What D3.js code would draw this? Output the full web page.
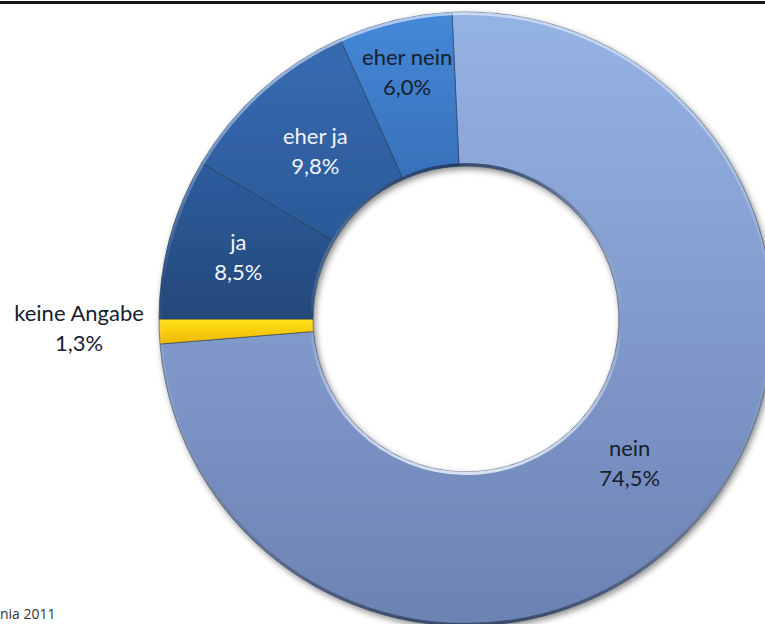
<!DOCTYPE html>
<html>
<head>
<meta charset="utf-8">
<script src="https://cdn.jsdelivr.net/npm/d3@7"></script>
<style>
  html, body { margin: 0; padding: 0; background: #fff; }
  svg { display: block; }
</style>
</head>
<body>
<svg id="chart" width="765" height="624"></svg>
<script>
// Survey answers, in drawing order (clockwise)
const categories = ["nein", "keine Angabe", "ja", "eher ja", "eher nein"];
const values = [74.5, 1.3, 8.5, 9.8, 6.0];
const sourceNote = "nia 2011";

const W = 765, H = 624;
const cx = 466, cy = 319, rOuter = 307, rInner = 153;

const svg = d3.select("#chart");
const defs = svg.append("defs");

// German number format: 74,5%
const de = d3.formatLocale({ decimal: ",", thousands: ".", grouping: [3], currency: ["", " €"] });
const pct = v => de.format(".1f")(v) + "%";

// Slice colours: [top, bottom] of a vertical gradient
const palette = {
  "nein":         ["#96b3e5", "#6c82b3"],
  "keine Angabe": ["#ffe41c", "#efb600"],
  "ja":           ["#2d5d9f", "#244879"],
  "eher ja":      ["#376bb3", "#2a5996"],
  "eher nein":    ["#4589d9", "#3870b9"]
};
const labelFill = {
  "nein": "#16202e", "keine Angabe": "#16202e", "eher nein": "#16202e",
  "ja": "#f2f5fb", "eher ja": "#f2f5fb"
};
// radial nudge of in-ring labels relative to the ring centroid
const labelShift = { "nein": -12, "eher nein": 24, "ja": 6, "eher ja": -4 };

categories.forEach((c, i) => {
  const g = defs.append("linearGradient")
    .attr("id", "grad" + i)
    .attr("x1", 0).attr("y1", 0).attr("x2", 0).attr("y2", 1);
  g.append("stop").attr("offset", "0%").attr("stop-color", palette[c][0]);
  g.append("stop").attr("offset", "100%").attr("stop-color", palette[c][1]);
});

// soft drop shadow under the ring
const f = defs.append("filter").attr("id", "shadow")
  .attr("x", "-10%").attr("y", "-10%").attr("width", "120%").attr("height", "120%");
f.append("feDropShadow").attr("dx", 2).attr("dy", 3).attr("stdDeviation", 3)
  .attr("flood-color", "#000").attr("flood-opacity", 0.45);

// rim highlights: outer light on top, inner light at bottom
const rimOuter = defs.append("linearGradient").attr("id", "rimOuter")
  .attr("x1", 0).attr("y1", 0).attr("x2", 0).attr("y2", 1);
rimOuter.append("stop").attr("offset", "0%").attr("stop-color", "#dfe9fb").attr("stop-opacity", 0.7);
rimOuter.append("stop").attr("offset", "45%").attr("stop-color", "#ffffff").attr("stop-opacity", 0);
rimOuter.append("stop").attr("offset", "100%").attr("stop-color", "#1b2740").attr("stop-opacity", 0.6);
const rimInner = defs.append("linearGradient").attr("id", "rimInner")
  .attr("x1", 0).attr("y1", 0).attr("x2", 0).attr("y2", 1);
rimInner.append("stop").attr("offset", "0%").attr("stop-color", "#1b2740").attr("stop-opacity", 0.7);
rimInner.append("stop").attr("offset", "50%").attr("stop-color", "#ffffff").attr("stop-opacity", 0);
rimInner.append("stop").attr("offset", "100%").attr("stop-color", "#e4ecfb").attr("stop-opacity", 0.9);

// top rule
svg.append("rect").attr("x", 0).attr("y", 1).attr("width", W).attr("height", 3).attr("fill", "#151515");

// "ja" starts at 9 o'clock; everything else follows clockwise
const total = d3.sum(values);
const start = -Math.PI / 2 - 2 * Math.PI * (values[0] + values[1]) / total;
const pie = d3.pie().sort(null).startAngle(start).endAngle(start + 2 * Math.PI);
const arcs = pie(values);

const arc = d3.arc().innerRadius(rInner).outerRadius(rOuter);

const ring = svg.append("g").attr("transform", `translate(${cx},${cy})`);
const slices = ring.append("g").attr("filter", "url(#shadow)");
slices.selectAll("path")
  .data(arcs)
  .join("path")
  .attr("d", arc)
  .attr("fill", (d, i) => `url(#grad${i})`)
  .attr("stroke", "#22344f")
  .attr("stroke-opacity", 0.55)
  .attr("stroke-width", 1);

// bevel-like rims
ring.append("circle").attr("r", rOuter - 1.5).attr("fill", "none")
  .attr("stroke", "url(#rimOuter)").attr("stroke-width", 3);
ring.append("circle").attr("r", rInner + 1.5).attr("fill", "none")
  .attr("stroke", "url(#rimInner)").attr("stroke-width", 3);

// labels
const fontFamily = "Lato, 'Open Sans', sans-serif";
const fs = 22, lineGap = 15;

arcs.forEach((d, i) => {
  const c = categories[i];
  const mid = (d.startAngle + d.endAngle) / 2;
  let x, y;
  if (c === "keine Angabe") {
    x = cx - rOuter - 80;
    y = cy - rOuter * Math.cos(mid) - 4;
  } else {
    const r = (rInner + rOuter) / 2 + (labelShift[c] || 0);
    x = cx + r * Math.sin(mid);
    y = cy - r * Math.cos(mid);
  }
  const t = svg.append("text")
    .attr("x", x).attr("y", y)
    .attr("text-anchor", "middle")
    .attr("font-family", fontFamily)
    .attr("font-size", fs)
    .attr("fill", labelFill[c]);
  t.append("tspan").attr("x", x).attr("y", y - lineGap + 8).text(c);
  t.append("tspan").attr("x", x).attr("y", y + lineGap + 8).text(pct(values[i]));
});

// source note
svg.append("text")
  .attr("x", 0).attr("y", 619)
  .attr("font-family", "'Open Sans', sans-serif")
  .attr("font-size", 14)
  .attr("fill", "#333")
  .text(sourceNote);
</script>
</body>
</html>
